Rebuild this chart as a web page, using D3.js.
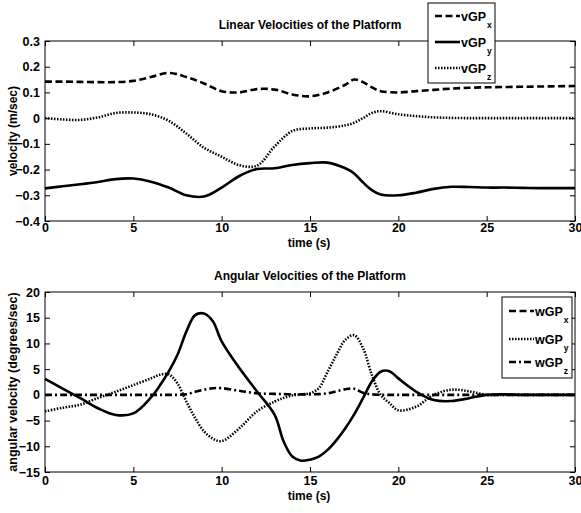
<!DOCTYPE html>
<html>
<head>
<meta charset="utf-8">
<script src="https://cdn.jsdelivr.net/npm/d3@7"></script>
<style>
  body { margin: 0; background: #fff; }
  svg text { font-family: "Liberation Sans Narrow", "Arial Narrow", "Liberation Sans", Arial, sans-serif; font-weight: bold; fill: #000; }
</style>
</head>
<body>
<div class="chart"></div>
<script>
// time samples
var tLin = [0,1,2,3,4,5,6,7,8,9,10,11,12,13,14,15,16,17,17.5,18,18.5,19,20,21,22,23,24,25,26,27,28,29,30];
var vGPx = [0.142,0.142,0.141,0.14,0.14,0.145,0.16,0.176,0.16,0.135,0.105,0.1,0.113,0.111,0.092,0.085,0.1,0.13,0.15,0.14,0.12,0.105,0.1,0.105,0.11,0.115,0.118,0.12,0.121,0.122,0.123,0.124,0.125];
var vGPy = [-0.273,-0.265,-0.257,-0.248,-0.237,-0.235,-0.247,-0.27,-0.3,-0.305,-0.27,-0.225,-0.198,-0.195,-0.182,-0.175,-0.173,-0.195,-0.215,-0.25,-0.28,-0.297,-0.3,-0.29,-0.275,-0.267,-0.268,-0.27,-0.27,-0.271,-0.272,-0.272,-0.272];
var vGPz = [0,-0.005,-0.007,0.003,0.02,0.022,0.015,-0.01,-0.06,-0.115,-0.15,-0.183,-0.185,-0.11,-0.05,-0.04,-0.037,-0.028,-0.018,0,0.02,0.027,0.015,0.008,0.003,0.001,0,0,0,0,0,0,0];

var tAng = [0,1,2,3,4,5,6,6.5,7,7.5,8,8.5,9,9.5,10,11,12,13,13.5,14,14.5,15,15.5,16,16.5,17,17.5,18,18.5,19,19.5,20,21,22,23,24,25,26,27,28,29,30];
var wGPx = [3.1,1.2,-0.65,-2.6,-3.9,-3.6,-0.5,1.8,4.5,7.8,12.3,15.5,15.8,14.3,10.4,5.2,0.65,-3.9,-9,-12,-12.8,-12.6,-12,-10.7,-8.8,-6.5,-3.8,-0.65,2.6,4.5,4.6,3.2,0.65,-1,-1.2,-0.65,0,0.1,0,0,0,0];
var wGPy = [-3.2,-2.5,-1.9,-0.6,0.6,1.9,3.2,3.9,4.0,2.2,-1.3,-4.5,-7.1,-8.5,-9.0,-6.5,-3.2,-1.3,-0.6,-0.1,0.1,0.3,1.3,4.5,7.8,10.7,11.6,9.1,3.9,0,-1.6,-3.0,-2.3,0,1,0.7,0,0,0,0,0,0];
var wGPz = [0,0,0,0,0,0,0,0,0,0,0.1,0.6,1.0,1.3,1.3,0.8,0.3,0.2,0.15,0.1,0.1,0.1,0.15,0.3,0.7,1.1,1.2,0.4,0.1,0,0,0,0,0,0,0,0,0,0,0,0,0];

var xTicks = [0,5,10,15,20,25,30];
var linTicks = [-0.4,-0.3,-0.2,-0.1,0,0.1,0.2,0.3];
var angTicks = [-15,-10,-5,0,5,10,15,20];

var svg = d3.select(".chart").append("svg")
  .attr("width", 581)
  .attr("height", 513);

var styles = {
  dash: "7,3.5",
  solid: null,
  dot: "1.5,1.5",
  dashdot: "7,3,2,3"
};

function drawPanel(opt) {
  var left = 45, right = 575;
  var x = d3.scaleLinear().domain([0, 30]).range([left, right]);
  var y = d3.scaleLinear().domain(opt.yDomain).range([opt.bottom, opt.top]);

  var g = svg.append("g");

  // ticks inward on all four sides
  var tick = 5;
  g.append("g").attr("transform", `translate(0,${opt.bottom})`)
    .call(d3.axisBottom(x).tickValues(xTicks).tickSize(-tick).tickFormat(d3.format("d")).tickPadding(opt.xPad))
    .call(a => a.select(".domain").remove());
  g.append("g").attr("transform", `translate(0,${opt.top})`)
    .call(d3.axisTop(x).tickValues(xTicks).tickSize(-tick).tickFormat(""))
    .call(a => a.select(".domain").remove());
  g.append("g").attr("transform", `translate(${left},0)`)
    .call(d3.axisLeft(y).tickValues(opt.yTicks).tickSize(-tick).tickFormat(opt.fmt).tickPadding(5))
    .call(a => a.select(".domain").remove());
  g.append("g").attr("transform", `translate(${right},0)`)
    .call(d3.axisRight(y).tickValues(opt.yTicks).tickSize(-tick).tickFormat(""))
    .call(a => a.select(".domain").remove());
  g.selectAll(".tick line").attr("stroke", "#000");
  g.selectAll(".tick text").style("font-size", "12.5px");

  g.append("rect")
    .attr("x", left).attr("y", opt.top)
    .attr("width", right - left).attr("height", opt.bottom - opt.top)
    .attr("fill", "none").attr("stroke", "#000").attr("stroke-width", 1);

  var line = d3.line().curve(d3.curveCatmullRom);
  opt.series.forEach(function(s) {
    g.append("path")
      .datum(s.t.map((t, i) => [x(t), y(s.v[i])]))
      .attr("d", line)
      .attr("fill", "none")
      .attr("stroke", "#000")
      .attr("stroke-width", 2.6)
      .attr("stroke-dasharray", styles[s.style]);
  });

  // titles
  g.append("text").attr("x", 310).attr("y", opt.top - 12)
    .attr("text-anchor", "middle").style("font-size", "12px").text(opt.title);
  g.append("text").attr("x", 309).attr("y", opt.bottom + opt.xlabDy)
    .attr("text-anchor", "middle").style("font-size", "12px").text("time (s)");
  g.append("text")
    .attr("transform", `translate(17,${(opt.top + opt.bottom) / 2}) rotate(-90)`)
    .attr("text-anchor", "middle").style("font-size", opt.ylabSize).style("font-family", "'Liberation Sans', Arial, sans-serif").text(opt.ylabel);

  // legend
  var lg = opt.legend;
  g.append("rect").attr("x", lg.x).attr("y", lg.y).attr("width", lg.w).attr("height", lg.h)
    .attr("fill", "#fff").attr("stroke", "#000").attr("stroke-width", 1);
  lg.items.forEach(function(it, i) {
    var cy = lg.rows[i];
    g.append("line")
      .attr("x1", lg.x + 7).attr("x2", lg.x + 32)
      .attr("y1", cy).attr("y2", cy)
      .attr("stroke", "#000").attr("stroke-width", 2.6)
      .attr("stroke-dasharray", styles[it.style]);
    var t = g.append("text").attr("x", lg.x + 33).attr("y", cy + 4.5).style("font-size", "12.5px");
    t.append("tspan").text(it.name);
    t.append("tspan").attr("dx", 1).attr("dy", 7).style("font-size", "8.5px").text(it.sub);
  });
}

drawPanel({
  top: 41, bottom: 221, xPad: 2, xlabDy: 26, ylabSize: "12px",
  yDomain: [-0.4, 0.3], yTicks: linTicks,
  fmt: d => d === 0 ? "0" : d3.format(".1f")(d),
  title: "Linear Velocities of the Platform",
  ylabel: "velocity (m/sec)",
  series: [
    {t: tLin, v: vGPx, style: "dash"},
    {t: tLin, v: vGPy, style: "solid"},
    {t: tLin, v: vGPz, style: "dot"}
  ],
  legend: {x: 428, y: 3, w: 67, h: 80, rows: [16, 42, 68], items: [
    {name: "vGP", sub: "x", style: "dash"},
    {name: "vGP", sub: "y", style: "solid"},
    {name: "vGP", sub: "z", style: "dot"}
  ]}
});

drawPanel({
  top: 292, bottom: 472, xPad: 4, xlabDy: 28, ylabSize: "12.5px",
  yDomain: [-15, 20], yTicks: angTicks,
  fmt: d3.format("d"),
  title: "Angular Velocities of the Platform",
  ylabel: "angular velocity (degrees/sec)",
  series: [
    {t: tAng, v: wGPx, style: "solid"},
    {t: tAng, v: wGPy, style: "dot"},
    {t: tAng, v: wGPz, style: "dashdot"}
  ],
  legend: {x: 502, y: 297, w: 70, h: 81, rows: [311, 339, 362], items: [
    {name: "wGP", sub: "x", style: "dash"},
    {name: "wGP", sub: "y", style: "dot"},
    {name: "wGP", sub: "z", style: "dashdot"}
  ]}
});
</script>
</body>
</html>
